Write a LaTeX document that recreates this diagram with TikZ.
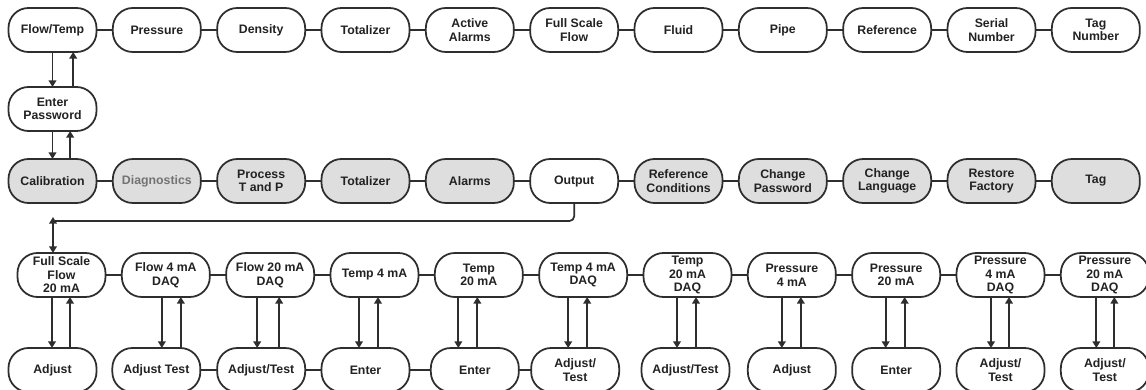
\documentclass[tikz,border=0pt]{standalone}
\usepackage{fontspec}
\setmainfont{Liberation Sans}
\usetikzlibrary{arrows.meta, positioning, calc}
\definecolor{linegray}{HTML}{2E2E2E}
\definecolor{boxgray}{HTML}{DEDEDE}
\definecolor{textgray}{HTML}{222222}

\begin{document}
\begin{tikzpicture}[
    node distance=0.49cm,
    item/.style={rectangle, rounded corners=0.6cm, draw=linegray, line width=1.5pt, outer sep=0pt, minimum width=2.64cm, minimum height=1.32cm, inner sep=1pt, fill=white, text=textgray, align=center, font=\bfseries\fontsize{10.5}{11.6}\selectfont},
    setting/.style={item, fill=boxgray},
    link/.style={draw=linegray, line width=1.7pt},
    arrow/.style={draw=linegray, line width=1.5pt, -{Triangle[length=2mm, width=2.3mm]}}
]
\useasboundingbox (0,0) rectangle (34.38,-11.7);

% Menu row
\node (flowtemp) [item] at (1.575,-0.9) {Flow/Temp};
\node (pressure) [item, right=of flowtemp] {Pressure};
\node (density) [item, right=of pressure] {Density};
\node (totalizer) [item, right=of density] {Totalizer};
\node (actalarms) [item, right=of totalizer] {Active\\Alarms};
\node (fullscale) [item, right=of actalarms] {Full Scale\\Flow};
\node (fluid) [item, right=of fullscale] {Fluid};
\node (pipe) [item, right=of fluid] {Pipe};
\node (reference) [item, right=of pipe] {Reference};
\node (serial) [item, right=of reference] {Serial\\Number};
\node (tagnum) [item, right=of serial] {Tag\\Number};

% Password
\node (password) [item, below=1.05cm of flowtemp] {Enter\\Password};

% Setup row
\node (calib) [setting, below=0.84cm of password] {Calibration};
\node (diag) [setting, right=of calib, text=black!55] {Diagnostics};
\node (procTP) [setting, right=of diag] {Process\\T and P};
\node (totcfg) [setting, right=of procTP] {Totalizer};
\node (alarms) [setting, right=of totcfg] {Alarms};
\node (output) [item, right=of alarms] {Output};
\node (refcond) [setting, right=of output] {Reference\\Conditions};
\node (chpass) [setting, right=of refcond] {Change\\Password};
\node (chlang) [setting, right=of chpass] {Change\\Language};
\node (restore) [setting, right=of chlang] {Restore\\Factory};
\node (tag) [setting, right=of restore] {Tag};

% Output row
\node (fsflow) [item, below=1.5cm of calib, xshift=0.27cm] {Full Scale\\Flow\\20 mA};
\node (flow4) [item, right=of fsflow] {Flow 4 mA\\DAQ};
\node (flow20) [item, right=of flow4] {Flow 20 mA\\DAQ};
\node (temp4) [item, right=of flow20] {Temp 4 mA};
\node (temp20) [item, right=of temp4] {Temp\\20 mA};
\node (temp4daq) [item, right=of temp20] {Temp 4 mA\\DAQ};
\node (temp20daq) [item, right=of temp4daq] {Temp\\20 mA\\DAQ};
\node (press4) [item, right=of temp20daq] {Pressure\\4 mA};
\node (press20) [item, right=of press4] {Pressure\\20 mA};
\node (press4daq) [item, right=of press20] {Pressure\\4 mA\\DAQ};
\node (press20daq) [item, right=of press4daq] {Pressure\\20 mA\\DAQ};

% Action row
\node (adjust1) [item, below=1.53cm of fsflow, xshift=-0.27cm] {Adjust};
\node (adjtest1) [item, below=1.53cm of flow4, xshift=-0.285cm] {Adjust Test};
\node (adjtest2) [item, below=1.53cm of flow20, xshift=-0.27cm] {Adjust/Test};
\node (enter1) [item, below=1.53cm of temp4, xshift=-0.27cm] {Enter};
\node (enter2) [item, below=1.53cm of temp20, xshift=-0.12cm] {Enter};
\node (adjtest3) [item, below=1.53cm of temp4daq, xshift=-0.24cm] {Adjust/\\Test};
\node (adjtest4) [item, below=1.53cm of temp20daq, xshift=-0.06cm] {Adjust/Test};
\node (adjust2) [item, below=1.53cm of press4] {Adjust};
\node (enter3) [item, below=1.53cm of press20] {Enter};
\node (adjtest5) [item, below=1.53cm of press4daq] {Adjust/\\Test};
\node (adjtest6) [item, below=1.53cm of press20daq] {Adjust/\\Test};

% Row links
\draw [link] (flowtemp) -- (pressure) -- (density) -- (totalizer) -- (actalarms) -- (fullscale) -- (fluid) -- (pipe) -- (reference) -- (serial) -- (tagnum);
\draw [link] (calib) -- (diag) -- (procTP) -- (totcfg) -- (alarms) -- (output) -- (refcond) -- (chpass) -- (chlang) -- (restore) -- (tag);
\draw [link] (fsflow) -- (flow4) -- (flow20) -- (temp4) -- (temp20) -- (temp4daq) -- (temp20daq) -- (press4) -- (press20) -- (press4daq) -- (press20daq);
\draw [link] (adjtest1) -- (adjtest2) -- (enter1) -- (enter2) -- (adjtest3);

% Password arrows
\draw [arrow] (flowtemp.south) -- (password.north);
\draw [arrow] ([xshift=0.62cm]password.north) -- ([xshift=0.62cm]password.north |- flowtemp.south);
\draw [arrow] (password.south) -- (calib.north);
\draw [arrow] ([xshift=0.53cm]calib.north) -- ([xshift=0.53cm]calib.north |- password.south);

% Output to its menu
\coordinate (turn) at ([xshift=-0.255cm, yshift=0.96cm]fsflow.north);
\draw [link, line width=1.5pt, rounded corners=4pt] (output.south) |- ([xshift=0.06cm]turn);
\draw [arrow, {Triangle[length=2mm, width=2.3mm]}-{Triangle[length=2mm, width=2.3mm]}] ([yshift=0.12cm]turn) -- (turn |- fsflow.north);

% Down and up arrows
\draw [arrow] ([xshift=-0.285cm]fsflow.south) -- ([xshift=-0.285cm]fsflow.south |- adjust1.north);
\draw [arrow] ([xshift=0.255cm]fsflow.south |- adjust1.north) -- ([xshift=0.255cm]fsflow.south);
\draw [arrow] ([xshift=-0.12cm]flow4.south) -- ([xshift=-0.12cm]flow4.south |- adjtest1.north);
\draw [arrow] ([xshift=0.45cm]flow4.south |- adjtest1.north) -- ([xshift=0.45cm]flow4.south);
\draw [arrow] ([xshift=-0.39cm]flow20.south) -- ([xshift=-0.39cm]flow20.south |- adjtest2.north);
\draw [arrow] ([xshift=0.27cm]flow20.south |- adjtest2.north) -- ([xshift=0.27cm]flow20.south);
\draw [arrow] ([xshift=-0.465cm]temp4.south) -- ([xshift=-0.465cm]temp4.south |- enter1.north);
\draw [arrow] ([xshift=0.105cm]temp4.south |- enter1.north) -- ([xshift=0.105cm]temp4.south);
\draw [arrow] ([xshift=-0.615cm]temp20.south) -- ([xshift=-0.615cm]temp20.south |- enter2.north);
\draw [arrow] ([xshift=-0.045cm]temp20.south |- enter2.north) -- ([xshift=-0.045cm]temp20.south);
\draw [arrow] ([xshift=-0.45cm]temp4daq.south) -- ([xshift=-0.45cm]temp4daq.south |- adjtest3.north);
\draw [arrow] ([xshift=0.12cm]temp4daq.south |- adjtest3.north) -- ([xshift=0.12cm]temp4daq.south);
\draw [arrow] ([xshift=-0.315cm]temp20daq.south) -- ([xshift=-0.315cm]temp20daq.south |- adjtest4.north);
\draw [arrow] ([xshift=0.255cm]temp20daq.south |- adjtest4.north) -- ([xshift=0.255cm]temp20daq.south);
\draw [arrow] ([xshift=-0.3cm]press4.south) -- ([xshift=-0.3cm]press4.south |- adjust2.north);
\draw [arrow] ([xshift=0.27cm]press4.south |- adjust2.north) -- ([xshift=0.27cm]press4.south);
\draw [arrow] ([xshift=-0.315cm]press20.south) -- ([xshift=-0.315cm]press20.south |- enter3.north);
\draw [arrow] ([xshift=0.255cm]press20.south |- enter3.north) -- ([xshift=0.255cm]press20.south);
\draw [arrow] ([xshift=-0.285cm]press4daq.south) -- ([xshift=-0.285cm]press4daq.south |- adjtest5.north);
\draw [arrow] ([xshift=0.255cm]press4daq.south |- adjtest5.north) -- ([xshift=0.255cm]press4daq.south);
\draw [arrow] ([xshift=-0.255cm]press20daq.south) -- ([xshift=-0.255cm]press20daq.south |- adjtest6.north);
\draw [arrow] ([xshift=0.285cm]press20daq.south |- adjtest6.north) -- ([xshift=0.285cm]press20daq.south);

\end{tikzpicture}
\end{document}
